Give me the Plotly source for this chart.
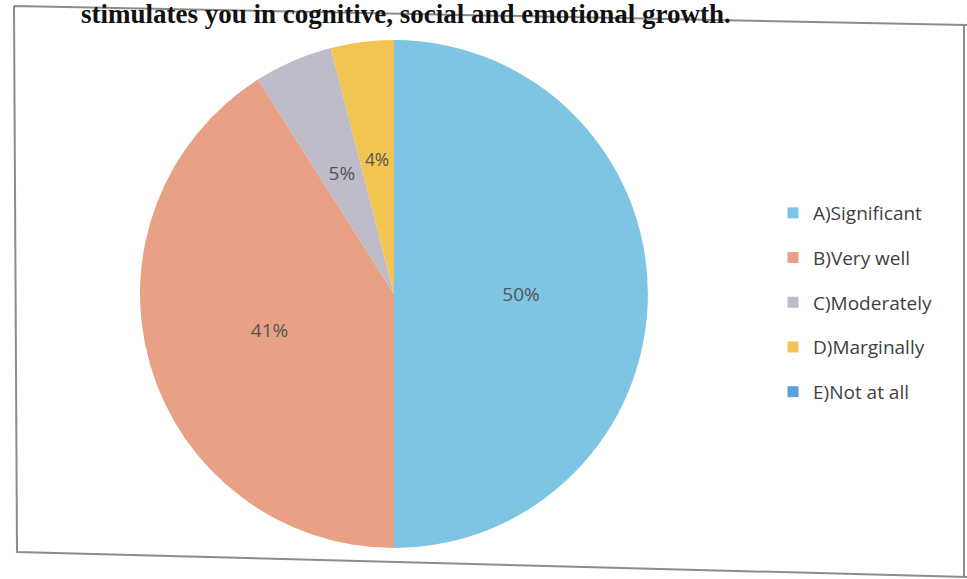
import plotly.graph_objects as go

# survey answers (percent of respondents)
labels = ['A)Significant', 'B)Very well', 'C)Moderately', 'D)Marginally', 'E)Not at all']
values = [50, 41, 5, 4, 0]
colors = ['#7EC4E3', '#E9A185', '#BDBCC8', '#F2C552', '#5FA0D5']

title_text = 'stimulates you in cognitive, social and emotional growth.'

W, H = 967, 579


def px(x):
    return x / W


def py(y):
    return 1 - y / H


label_font = {'family': 'Open Sans, Noto Sans, sans-serif', 'size': 19, 'color': '#555555'}
pct = ['{}%'.format(v) for v in values]
big_text = [t if v >= 10 else '' for t, v in zip(pct, values)]
small_text = [t if v < 10 else '' for t, v in zip(pct, values)]

cx, cy, r = 394, 294, 254  # pie placement in pixels
r_small = 152

fig = go.Figure()

fig.add_trace(go.Pie(
    labels=labels,
    values=values,
    sort=False,
    direction='clockwise',
    rotation=0,
    marker={'colors': colors, 'line': {'width': 0}},
    text=big_text,
    textinfo='text',
    textposition='inside',
    insidetextorientation='horizontal',
    insidetextfont=label_font,
    hoverinfo='label+percent',
    showlegend=False,
    domain={'x': [px(cx - r), px(cx + r)], 'y': [py(cy + r), py(cy - r)]},
))

# transparent inner copy, only to hold the labels of the thin slices
fig.add_trace(go.Pie(
    labels=labels,
    values=values,
    sort=False,
    direction='clockwise',
    rotation=0,
    marker={'colors': ['rgba(0,0,0,0)'] * len(values), 'line': {'width': 0}},
    text=small_text,
    textinfo='text',
    textposition='inside',
    insidetextorientation='horizontal',
    insidetextfont=label_font,
    hoverinfo='skip',
    showlegend=False,
    domain={'x': [px(cx - r_small), px(cx + r_small)], 'y': [py(cy + r_small), py(cy - r_small)]},
))

# legend entries (one group each, so the gap can be set)
for i, (lab, col) in enumerate(zip(labels, colors)):
    fig.add_trace(go.Scatter(
        x=[None], y=[None], mode='markers', name=lab,
        marker={'symbol': 'square', 'size': 11, 'color': col},
        legendgroup=str(i), showlegend=True, hoverinfo='skip',
    ))

# scanned page frame (slightly skewed)
frame = 'M {0},{1} L {2},{3} M {0},{1} L {4},{5} L {6},{7} M {8},{9} L {10},{11}'.format(
    px(14), py(6), px(967), py(25), px(17), py(552), px(967), py(577),
    px(964), py(25), px(964), py(577))
fig.add_shape(type='path', path=frame, xref='paper', yref='paper',
              line={'color': '#8C8C8C', 'width': 2})

fig.add_annotation(
    text='<b>' + title_text + '</b>',
    x=px(733), y=py(-3), xref='paper', yref='paper',
    xanchor='right', yanchor='top', showarrow=False,
    font={'family': 'Liberation Serif, Times New Roman, serif', 'size': 27, 'color': '#111111'},
)

fig.update_layout(
    width=W,
    height=H,
    margin={'l': 0, 'r': 0, 't': 0, 'b': 0},
    paper_bgcolor='white',
    plot_bgcolor='rgba(0,0,0,0)',
    xaxis={'visible': False},
    yaxis={'visible': False},
    showlegend=True,
    legend={
        'x': px(773), 'y': py(194), 'xanchor': 'left', 'yanchor': 'top',
        'font': {'family': 'Open Sans, Noto Sans, sans-serif', 'size': 19, 'color': '#404040'},
        'itemwidth': 30,
        'tracegroupgap': 17,
        'bgcolor': 'rgba(0,0,0,0)',
    },
)

fig.write_html('out.html', config={'displayModeBar': False},
               post_script="document.body.style.margin='0';")
